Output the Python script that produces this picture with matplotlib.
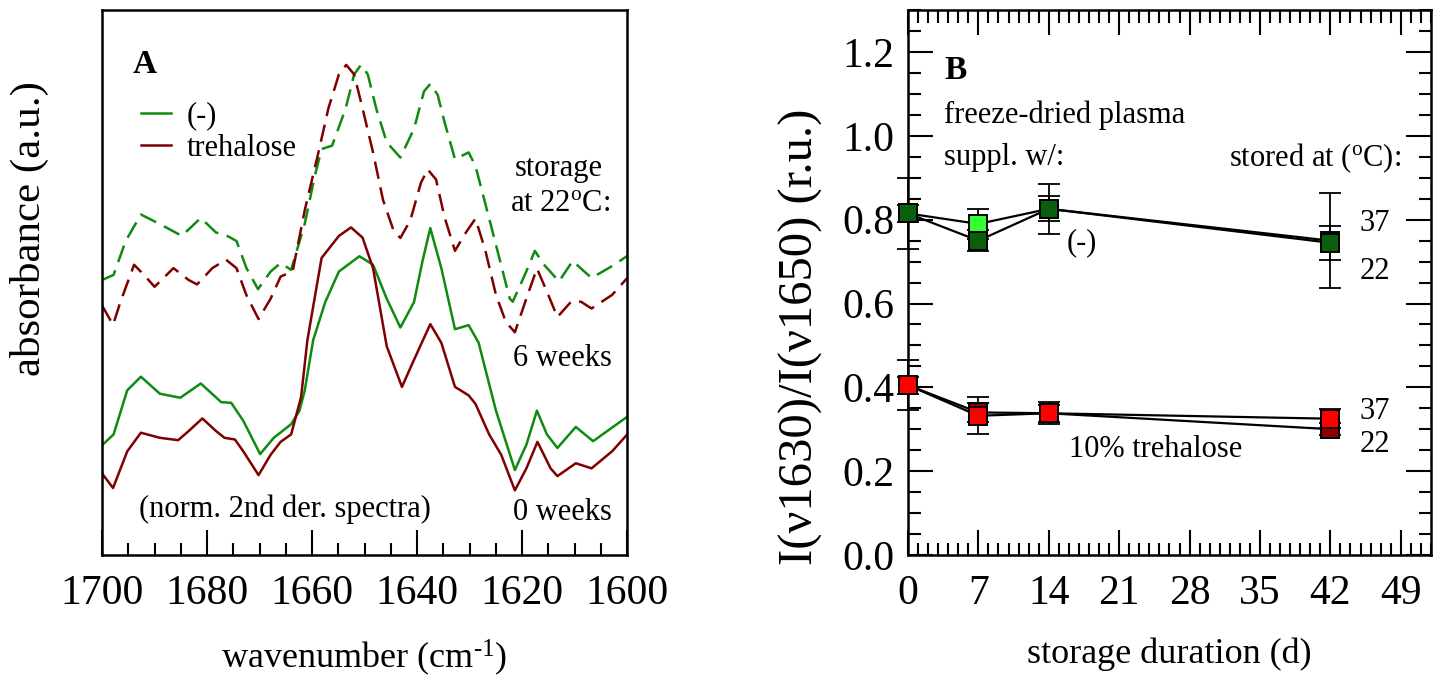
import matplotlib
matplotlib.use("Agg")
import matplotlib.pyplot as plt
from matplotlib.lines import Line2D
from matplotlib.ticker import MultipleLocator, FormatStrFormatter

plt.rcParams["font.family"] = ["Liberation Serif", "DejaVu Serif"]
plt.rcParams["mathtext.fontset"] = "custom"
plt.rcParams["mathtext.rm"] = "Liberation Serif"
plt.rcParams["mathtext.it"] = "Liberation Serif:italic"

# ---------------- Panel A: normalised 2nd-derivative spectra ----------------
wn_0w_neg = [1700.0, 1697.8, 1695.2, 1692.6, 1689.0, 1685.1, 1681.2, 1677.3, 1675.4,
             1673.1, 1669.9, 1667.3, 1664.0, 1662.4, 1661.4, 1659.8, 1657.5, 1654.9,
             1651.0, 1648.4, 1645.8, 1643.2, 1640.6, 1639.0, 1637.5, 1635.4, 1632.8,
             1630.2, 1628.3, 1625.0, 1621.4, 1619.2, 1617.2, 1615.3, 1613.3, 1609.8,
             1606.5, 1602.9, 1600.0]
ab_0w_neg = [3.38, 3.70, 5.00, 5.40, 4.90, 4.78, 5.20, 4.65, 4.63,
             4.10, 3.12, 3.60, 4.00, 4.40, 5.00, 6.48, 7.60, 8.50,
             8.95, 8.70, 7.70, 6.85, 7.60, 8.80, 9.78, 8.60, 6.80,
             6.92, 6.40, 4.40, 2.65, 3.40, 4.40, 3.70, 3.30, 3.92,
             3.50, 3.90, 4.22]

wn_0w_tre = [1700.0, 1697.9, 1695.2, 1692.6, 1689.0, 1685.5, 1683.5, 1680.9, 1678.3,
             1676.7, 1674.7, 1673.1, 1670.2, 1667.9, 1666.0, 1664.0, 1662.1, 1660.9,
             1658.2, 1654.9, 1652.6, 1650.4, 1648.4, 1645.8, 1642.9, 1640.6, 1637.5,
             1635.4, 1632.8, 1630.2, 1628.9, 1626.3, 1624.0, 1621.4, 1619.2, 1617.1,
             1614.6, 1613.3, 1609.8, 1606.8, 1602.9, 1600.0]
ab_0w_tre = [2.55, 2.12, 3.20, 3.75, 3.60, 3.53, 3.80, 4.17, 3.80,
             3.60, 3.55, 3.20, 2.50, 3.10, 3.48, 3.70, 4.80, 6.48,
             8.90, 9.55, 9.80, 9.50, 8.60, 6.30, 5.10, 5.90, 6.95,
             6.40, 5.10, 4.85, 4.60, 3.70, 3.10, 2.05, 2.70, 3.48,
             2.70, 2.47, 2.85, 2.70, 3.20, 3.70]

wn_6w_neg = [1700.0, 1697.8, 1695.5, 1692.6, 1689.0, 1684.8, 1681.2, 1678.3, 1676.4,
             1674.4, 1672.5, 1670.3, 1667.9, 1666.0, 1664.0, 1661.4, 1659.5, 1658.2,
             1656.2, 1653.6, 1652.0, 1650.7, 1649.4, 1647.8, 1645.8, 1643.2, 1640.6,
             1638.7, 1637.5, 1636.1, 1634.8, 1632.8, 1630.2, 1628.9, 1625.7, 1622.4,
             1621.8, 1619.2, 1617.6, 1615.9, 1613.0, 1610.4, 1606.8, 1602.9, 1600.0]
ab_6w_neg = [8.25, 8.40, 9.40, 10.18, 9.90, 9.55, 10.08, 9.65, 9.57,
             9.40, 8.60, 7.98, 8.50, 8.75, 8.55, 9.91, 11.31, 12.11,
             12.21, 13.31, 14.31, 14.59, 14.31, 13.31, 12.31, 11.86, 12.71,
             13.81, 14.03, 13.71, 12.91, 11.81, 12.01, 11.61, 9.71, 7.71,
             7.61, 8.51, 9.11, 8.71, 8.21, 8.81, 8.31, 8.66, 8.96]

wn_6w_tre = [1700.0, 1697.9, 1696.5, 1693.9, 1692.0, 1690.0, 1686.4, 1683.5, 1681.9,
             1679.0, 1676.4, 1674.4, 1672.5, 1670.2, 1667.9, 1666.0, 1663.7, 1661.4,
             1658.8, 1656.9, 1654.9, 1653.5, 1652.0, 1650.4, 1648.4, 1646.5, 1644.5,
             1643.2, 1641.3, 1639.3, 1638.0, 1636.4, 1634.8, 1632.8, 1630.9, 1628.9,
             1627.0, 1625.0, 1623.1, 1621.4, 1619.2, 1617.2, 1615.3, 1613.3, 1610.7,
             1608.8, 1606.8, 1602.9, 1600.0]
ab_6w_tre = [7.50, 6.93, 7.60, 8.70, 8.40, 8.05, 8.60, 8.25, 8.12,
             8.60, 8.85, 8.60, 7.80, 7.10, 7.70, 8.35, 8.51, 10.31,
             12.01, 13.31, 14.31, 14.59, 14.31, 13.31, 12.01, 10.61, 9.71,
             9.49, 10.01, 11.11, 11.51, 11.21, 10.11, 9.11, 9.61, 10.06,
             9.11, 7.81, 7.01, 6.71, 7.71, 8.59, 7.91, 7.16, 7.61,
             7.61, 7.41, 7.81, 8.31]

# ---------------- Panel B: band intensity ratio vs storage time ----------------
days = [0, 7, 14, 42]
neg_37 = [0.815, 0.790, 0.826, 0.750]
neg_37_err = [0.085, 0.035, 0.059, 0.113]
neg_22 = [0.815, 0.750, 0.826, 0.745]
neg_22_err = [0.020, 0.025, 0.030, 0.040]
tre_22 = [0.405, 0.340, 0.338, 0.300]
tre_22_err = [0.020, 0.022, 0.020, 0.015]
tre_37 = [0.405, 0.332, 0.338, 0.325]
tre_37_err = [0.060, 0.044, 0.026, 0.022]

GREEN = "#108a10"
MAROON = "#800000"

fig = plt.figure(figsize=(14.41, 6.85), dpi=100)
axA = fig.add_axes([0.0708, 0.19, 0.3645, 0.795])
axB = fig.add_axes([0.6301, 0.19, 0.3629, 0.795])

TICK_FS = 30
XLABEL_FS = 26
TEXT_FS = 22

for ax in (axA, axB):
    for sp in ax.spines.values():
        sp.set_linewidth(1.8)

# Panel A
dash = (0, (7, 3.5))
for wn, ab, col, ls in [(wn_6w_neg, ab_6w_neg, GREEN, dash),
                        (wn_6w_tre, ab_6w_tre, MAROON, dash),
                        (wn_0w_neg, ab_0w_neg, GREEN, "-"),
                        (wn_0w_tre, ab_0w_tre, MAROON, "-")]:
    axA.plot(wn, ab, color=col, lw=1.8, linestyle=ls,
             solid_joinstyle="round", dash_joinstyle="round")
axA.set_xlim(1700, 1600)
axA.set_ylim(0.15, 16.2)
axA.xaxis.set_major_locator(MultipleLocator(20))
axA.xaxis.set_minor_locator(MultipleLocator(5))
axA.tick_params(axis="x", which="major", direction="in", length=18, width=1.5,
                labelsize=TICK_FS, pad=14)
axA.tick_params(axis="x", which="minor", direction="in", length=9, width=1.5)
axA.set_yticks([])
axA.set_xlabel("wavenumber (cm$^{\\text{-1}}$)", fontsize=XLABEL_FS)
axA.xaxis.set_label_coords(0.5, -0.152)
axA.set_ylabel("absorbance (a.u.)", fontsize=31)
axA.yaxis.set_label_coords(-0.10, 0.60)

axA.text(0.082, 0.90, "A", transform=axA.transAxes, fontsize=24,
         fontweight="bold", ha="center", va="center")
handles = [Line2D([], [], color=GREEN, lw=1.8), Line2D([], [], color=MAROON, lw=1.8)]
axA.legend(handles, ["(-)", "trehalose"], loc="upper left", frameon=False,
           fontsize=TEXT_FS, handlelength=1.0, handletextpad=0.5,
           labelspacing=0.1, bbox_to_anchor=(0.05, 0.855), borderaxespad=0)
axA.text(0.87, 0.71, "storage", transform=axA.transAxes, fontsize=TEXT_FS,
         ha="center", va="center")
axA.text(0.872, 0.646, "at 22$^{\\rm o}$C:", transform=axA.transAxes,
         fontsize=TEXT_FS, ha="center", va="center")
axA.text(0.876, 0.361, "6 weeks", transform=axA.transAxes, fontsize=TEXT_FS,
         ha="center", va="center")
axA.text(0.876, 0.078, "0 weeks", transform=axA.transAxes, fontsize=TEXT_FS,
         ha="center", va="center")
axA.text(0.349, 0.084, "(norm. 2nd der. spectra)", transform=axA.transAxes,
         fontsize=TEXT_FS, ha="center", va="center")

# Panel B
series = [
    (neg_37, neg_37_err, "#33ff33"),
    (neg_22, neg_22_err, "#0b5e0b"),
    (tre_22, tre_22_err, "#8b0000"),
    (tre_37, tre_37_err, "#ff0000"),
]
for vals, errs, col in series:
    axB.errorbar(days, vals, yerr=errs, fmt="none", ecolor="black",
                 elinewidth=1.3, capsize=8, capthick=1.3, clip_on=False, zorder=2)
for vals, errs, col in series:
    axB.plot(days, vals, color="black", lw=1.6, zorder=3, clip_on=False)
for vals, errs, col in series:
    axB.plot(days, vals, linestyle="none", marker="s", markersize=12.5,
             markerfacecolor=col, markeredgecolor="black", markeredgewidth=1.4,
             zorder=4, clip_on=False)

axB.set_xlim(0, 52)
axB.set_ylim(0, 1.3)
axB.xaxis.set_major_locator(MultipleLocator(7))
axB.xaxis.set_minor_locator(MultipleLocator(1))
axB.yaxis.set_major_locator(MultipleLocator(0.2))
axB.yaxis.set_minor_locator(MultipleLocator(0.05))
axB.yaxis.set_major_formatter(FormatStrFormatter("%.1f"))
axB.tick_params(which="both", direction="in", top=True, right=True, width=1.5)
axB.tick_params(which="major", length=18, labelsize=TICK_FS)
axB.tick_params(which="minor", length=9)
axB.tick_params(axis="x", which="major", pad=14)
axB.tick_params(axis="y", which="major", pad=10)
axB.set_xlabel("storage duration (d)", fontsize=XLABEL_FS)
axB.xaxis.set_label_coords(0.5, -0.152)
axB.set_ylabel("I(\u03bd1630)/I(\u03bd1650) (r.u.)", fontsize=35)
axB.yaxis.set_label_coords(-0.163, 0.40)

axB.text(3.6, 1.157, "B", fontsize=24, fontweight="bold", ha="left", va="center")
axB.text(3.6, 1.05, "freeze-dried plasma", fontsize=TEXT_FS, ha="left", va="center")
axB.text(3.6, 0.948, "suppl. w/:", fontsize=TEXT_FS, ha="left", va="center")
axB.text(49.0, 0.948, "stored at ($^{\\rm o}$C):", fontsize=TEXT_FS, ha="right",
         va="center")
axB.text(46.4, 0.79, "37", fontsize=TEXT_FS, ha="center", va="center")
axB.text(46.4, 0.677, "22", fontsize=TEXT_FS, ha="center", va="center")
axB.text(46.4, 0.343, "37", fontsize=TEXT_FS, ha="center", va="center")
axB.text(46.4, 0.264, "22", fontsize=TEXT_FS, ha="center", va="center")
axB.text(17.3, 0.745, "(-)", fontsize=TEXT_FS, ha="center", va="center")
axB.text(24.6, 0.252, "10% trehalose", fontsize=TEXT_FS, ha="center", va="center")

fig.savefig("out.png", dpi=100)
